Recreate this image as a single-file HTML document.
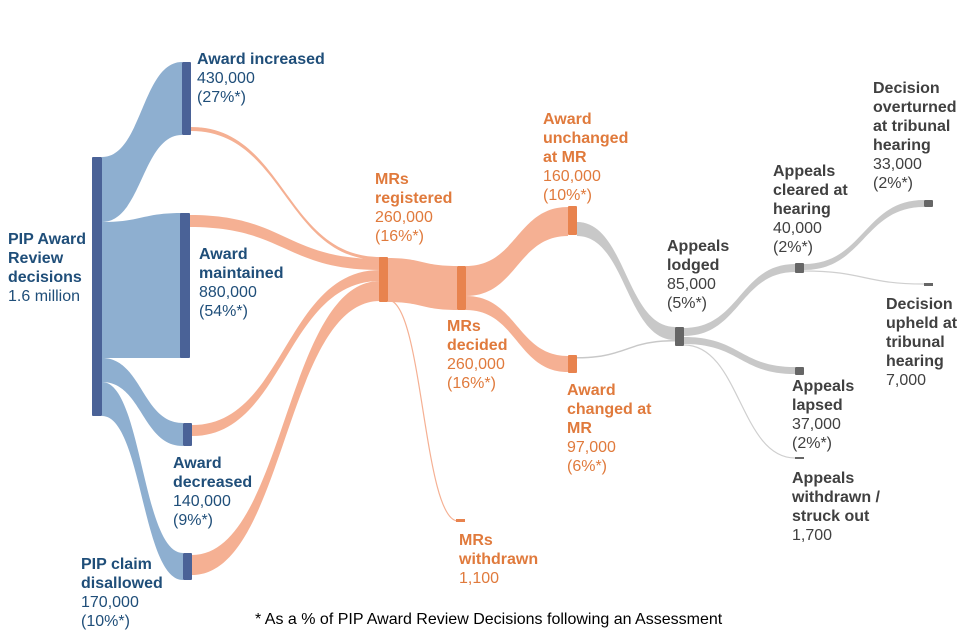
<!DOCTYPE html>
<html><head><meta charset="utf-8"><style>
body{margin:0;background:#fff}
svg{display:block}
text{font-family:"Liberation Sans",Arial,sans-serif;font-size:16px}
.b{font-weight:bold}
.bl{fill:#1f4e79}.or{fill:#e07a3c}.gr{fill:#404040}
</style></head><body>
<svg width="960" height="640" viewBox="0 0 960 640">
<g fill="#8eafd0">
<path d="M102 157 C142 157,142 62,182 62 L182 135 C142 135,142 222,102 222Z"/>
<path d="M102 222 C142 222,142 213,182 213 L182 358 C142 358,142 358,102 358Z"/>
<path d="M102 358 C142 358,142 423,183 423 L183 446 C142 446,142 382,102 382Z"/>
<path d="M102 382 C142 382,142 553,183 553 L183 580 C142 580,142 416,102 416Z"/>
</g>
<g fill="#f5b093">
<path d="M191 127 C285 127,285 257,380 257 L380 260 C285 260,285 131,191 131Z"/>
<path d="M190 215 C285 215,285 259,380 259 L380 270 C285 270,285 227,190 227Z"/>
<path d="M192 425 C285 425,285 270,380 270 L380 281 C285 281,285 436,192 436Z"/>
<path d="M192 555 C285 555,285 281,380 281 L380 301 C285 301,285 575,192 575Z"/>
<path d="M388 258 C422 258,422 266,457 266 L457 310 C422 310,422 302,388 302Z"/>
<path d="M466 266 C517 266,517 207,568 207 L568 236 C517 236,517 296,466 296Z"/>
<path d="M466 296 C517 296,517 356,568 356 L568 372 C517 372,517 310,466 310Z"/>
</g>
<path d="M388 300 C423 300,423 521,458 521" fill="none" stroke="#f5b093" stroke-width="1.2"/>
<g fill="#c8c8c8">
<path d="M577 222 C626 222,626 327,675 327 L675 340 C626 340,626 236,577 236Z"/>
<path d="M577 357 C626 357,626 340,675 340 L675 341.5 C626 341.5,626 358.5,577 358.5Z"/>
<path d="M684 328 C740 328,740 264,795 264 L795 272 C740 272,740 336,684 336Z"/>
<path d="M684 337 C740 337,740 367,795 367 L795 374 C740 374,740 344,684 344Z"/>
<path d="M804 264 C864 264,864 200,924 200 L924 207 C864 207,864 270,804 270Z"/>
</g>
<g fill="none" stroke="#cfcfcf" stroke-width="1.2">
<path d="M684 345 C740 345,740 458,795 458"/>
<path d="M804 271 C864 271,864 284,924 284"/>
</g>
<g fill="#4a6297">
<rect x="92" y="157" width="10" height="259" rx="1"/>
<rect x="182" y="62" width="9" height="73" rx="1"/>
<rect x="180" y="213" width="10" height="145" rx="1"/>
<rect x="183" y="423" width="9" height="23" rx="1"/>
<rect x="183" y="553" width="9" height="27" rx="1"/>
</g>
<g fill="#e8834e">
<rect x="379" y="257" width="9" height="45" rx="1"/>
<rect x="457" y="266" width="9" height="44" rx="1"/>
<rect x="568" y="206" width="9" height="29" rx="1"/>
<rect x="568" y="355" width="9" height="18" rx="1"/>
<rect x="456" y="519" width="9" height="3"/>
</g>
<g fill="#666">
<rect x="675" y="327" width="9" height="19" rx="1"/>
<rect x="795" y="263" width="9" height="10" rx="1"/>
<rect x="795" y="367" width="9" height="8" rx="1"/>
<rect x="795" y="457" width="9" height="2"/>
<rect x="924" y="200" width="9" height="7" rx="1"/>
<rect x="924" y="283" width="9" height="3"/>
</g>
<g class="bl">
<text x="8" y="244" class="b">PIP Award</text><text x="8" y="263" class="b">Review</text><text x="8" y="282" class="b">decisions</text><text x="8" y="301">1.6 million</text>
<text x="197" y="64" class="b">Award increased</text><text x="197" y="83">430,000</text><text x="197" y="102">(27%*)</text>
<text x="199" y="259" class="b">Award</text><text x="199" y="278" class="b">maintained</text><text x="199" y="297">880,000</text><text x="199" y="316">(54%*)</text>
<text x="173" y="468" class="b">Award</text><text x="173" y="487" class="b">decreased</text><text x="173" y="506">140,000</text><text x="173" y="525">(9%*)</text>
<text x="81" y="569" class="b">PIP claim</text><text x="81" y="588" class="b">disallowed</text><text x="81" y="607">170,000</text><text x="81" y="626">(10%*)</text>
</g>
<g class="or">
<text x="375" y="184" class="b">MRs</text><text x="375" y="203" class="b">registered</text><text x="375" y="222">260,000</text><text x="375" y="241">(16%*)</text>
<text x="447" y="331" class="b">MRs</text><text x="447" y="350" class="b">decided</text><text x="447" y="369">260,000</text><text x="447" y="388">(16%*)</text>
<text x="543" y="124" class="b">Award</text><text x="543" y="143" class="b">unchanged</text><text x="543" y="162" class="b">at MR</text><text x="543" y="181">160,000</text><text x="543" y="200">(10%*)</text>
<text x="567" y="395" class="b">Award</text><text x="567" y="414" class="b">changed at</text><text x="567" y="433" class="b">MR</text><text x="567" y="452">97,000</text><text x="567" y="471">(6%*)</text>
<text x="459" y="545" class="b">MRs</text><text x="459" y="564" class="b">withdrawn</text><text x="459" y="583">1,100</text>
</g>
<g class="gr">
<text x="667" y="251" class="b">Appeals</text><text x="667" y="270" class="b">lodged</text><text x="667" y="289">85,000</text><text x="667" y="308">(5%*)</text>
<text x="773" y="176" class="b">Appeals</text><text x="773" y="195" class="b">cleared at</text><text x="773" y="214" class="b">hearing</text><text x="773" y="233">40,000</text><text x="773" y="252">(2%*)</text>
<text x="873" y="93" class="b">Decision</text><text x="873" y="112" class="b">overturned</text><text x="873" y="131" class="b">at tribunal</text><text x="873" y="150" class="b">hearing</text><text x="873" y="169">33,000</text><text x="873" y="188">(2%*)</text>
<text x="886" y="309" class="b">Decision</text><text x="886" y="328" class="b">upheld at</text><text x="886" y="347" class="b">tribunal</text><text x="886" y="366" class="b">hearing</text><text x="886" y="385">7,000</text>
<text x="792" y="391" class="b">Appeals</text><text x="792" y="410" class="b">lapsed</text><text x="792" y="429">37,000</text><text x="792" y="448">(2%*)</text>
<text x="792" y="483" class="b">Appeals</text><text x="792" y="502" class="b">withdrawn /</text><text x="792" y="521" class="b">struck out</text><text x="792" y="540">1,700</text>
</g>
<text x="255" y="624" fill="#000" style="font-size:16px">* As a % of PIP Award Review Decisions following an Assessment</text>
</svg>
</body></html>
